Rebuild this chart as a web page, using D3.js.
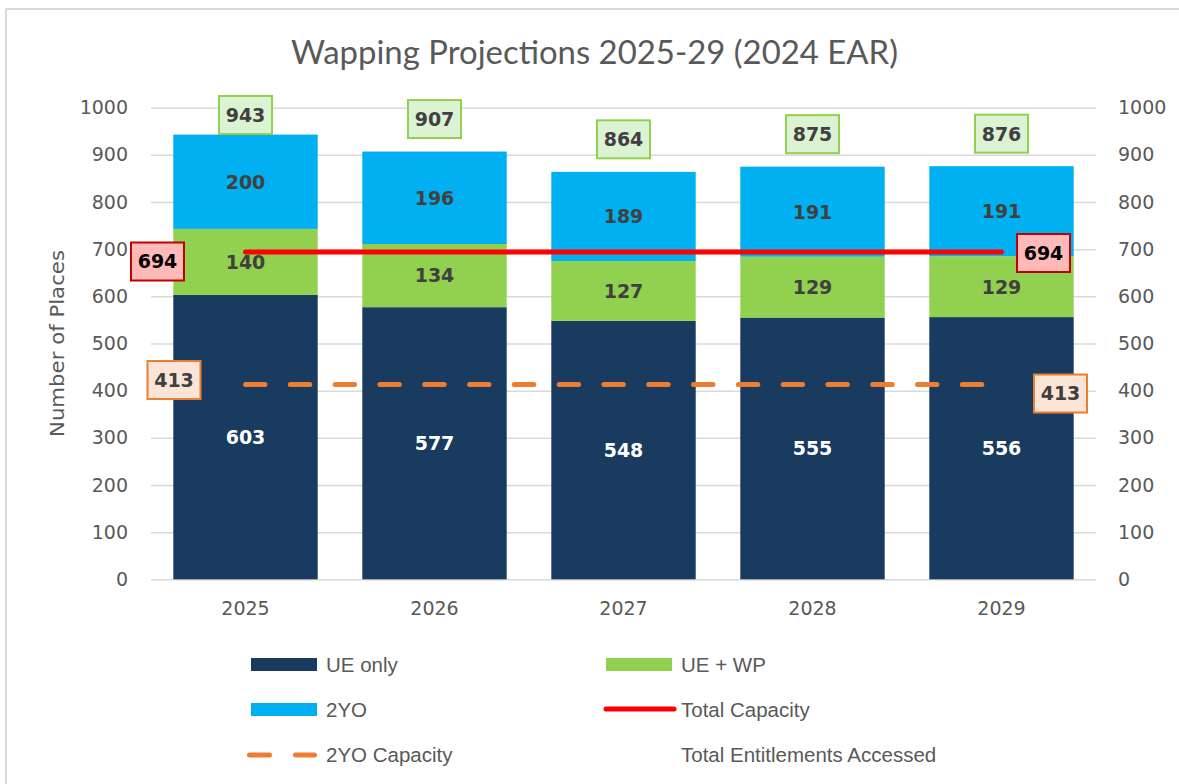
<!DOCTYPE html>
<html>
<head>
<meta charset="utf-8">
<script src="https://cdn.jsdelivr.net/npm/d3@7"></script>
<style>
  html, body { margin: 0; padding: 0; background: #fff; }
  svg { display: block; }
</style>
</head>
<body>
<svg id="chart" width="1179" height="784"></svg>
<script>
// ---- data ----
const years = ["2025", "2026", "2027", "2028", "2029"];
const ueOnly = [603, 577, 548, 555, 556];
const ueWp = [140, 134, 127, 129, 129];
const twoYO = [200, 196, 189, 191, 191];
const totalCapacity = [694, 694, 694, 694, 694];
const twoYOCapacity = [413, 413, 413, 413, 413];
const totalEntitlements = [943, 907, 864, 875, 876];
const yTicks = [0, 100, 200, 300, 400, 500, 600, 700, 800, 900, 1000];
const seriesNames = ["UE only", "UE + WP", "2YO", "Total Capacity", "2YO Capacity", "Total Entitlements Accessed"];
const titleText = "Wapping Projections 2025-29 (2024 EAR)";
const yAxisTitle = "Number of Places";

// ---- style ----
const C = { ue: "#183b5f", wp: "#92d050", yo: "#00b0f0", red: "#ff0000", orange: "#ed7d31",
            grid: "#d9d9d9", text: "#595959", lab: "#404040" };
const FONT = "'DejaVu Sans', sans-serif";

const svg = d3.select("#chart");
// outer frame
svg.append("rect").attr("x", 6).attr("y", 9).attr("width", 1190).attr("height", 800)
  .attr("fill", "#fff").attr("stroke", "#d9d9d9").attr("stroke-width", 2);

const x = d3.scaleBand().domain(years).range([151, 1096]).padding(0);
const y = d3.scaleLinear().domain([0, 1000]).range([579.3, 107.7]);
const barW = x.bandwidth() * 0.764;
const cx = d => x(d) + x.bandwidth() / 2;
const fmt = d3.format("d");

// gridlines + left axis
const gl = svg.append("g").attr("transform", "translate(151,0)")
  .call(d3.axisLeft(y).tickValues(yTicks).tickFormat(fmt).tickSize(-945).tickPadding(23));
gl.select(".domain").remove();
gl.selectAll("line").attr("stroke", C.grid).attr("stroke-width", 1.5);
gl.selectAll("text").attr("fill", C.text).attr("font-size", 19).attr("font-family", FONT);

const gr = svg.append("g").attr("transform", "translate(1096,0)")
  .call(d3.axisRight(y).tickValues(yTicks).tickFormat(fmt).tickSize(0).tickPadding(22));
gr.select(".domain").remove();
gr.selectAll("text").attr("fill", C.text).attr("font-size", 19).attr("font-family", FONT);

const gb = svg.append("g").attr("transform", `translate(0,${y(0)})`)
  .call(d3.axisBottom(x).tickSize(0).tickPadding(22));
gb.select(".domain").remove();
gb.selectAll("text").attr("fill", C.text).attr("font-size", 19).attr("font-family", FONT);

// stacked bars
const rows = years.map((yr, i) => ({ year: yr, ue: ueOnly[i], wp: ueWp[i], yo: twoYO[i] }));
const stack = d3.stack().keys(["ue", "wp", "yo"])(rows);
const fills = { ue: C.ue, wp: C.wp, yo: C.yo };
const labFill = { ue: "#ffffff", wp: C.lab, yo: C.lab };

stack.forEach(layer => {
  const g = svg.append("g");
  g.selectAll("rect").data(layer).join("rect")
    .attr("x", d => cx(d.data.year) - barW / 2)
    .attr("width", barW)
    .attr("y", d => y(d[1]))
    .attr("height", d => y(d[0]) - y(d[1]))
    .attr("fill", fills[layer.key]);
});
stack.forEach(layer => {
  svg.append("g").selectAll("text").data(layer).join("text")
    .attr("x", d => cx(d.data.year))
    .attr("y", d => y((d[0] + d[1]) / 2))
    .attr("dy", "0.36em")
    .attr("text-anchor", "middle")
    .attr("font-family", FONT).attr("font-weight", "bold").attr("font-size", 19)
    .attr("fill", labFill[layer.key])
    .text(d => d.data[layer.key]);
});

// lines
const line = d3.line().x((d, i) => cx(years[i])).y(d => y(d));
svg.append("path").datum(totalCapacity).attr("d", line)
  .attr("fill", "none").attr("stroke", C.red).attr("stroke-width", 5).attr("stroke-linecap", "round");
svg.append("path").datum(twoYOCapacity).attr("d", line)
  .attr("fill", "none").attr("stroke", C.orange).attr("stroke-width", 5)
  .attr("stroke-linecap", "round").attr("stroke-dasharray", "19.5,25.3");

// boxed labels
function boxLabel(px, py, txt, fill, stroke, color) {
  const g = svg.append("g").attr("transform", `translate(${px},${py})`);
  g.append("rect").attr("x", -26.5).attr("y", -19).attr("width", 53).attr("height", 38)
    .attr("fill", fill).attr("stroke", stroke).attr("stroke-width", 2);
  g.append("text").attr("text-anchor", "middle").attr("dy", "0.36em")
    .attr("font-family", FONT).attr("font-weight", "bold").attr("font-size", 19)
    .attr("fill", color).text(txt);
}
const last = years.length - 1;
boxLabel(cx(years[0]) - 88, y(totalCapacity[0]) + 9.5, totalCapacity[0], "#ffb9b9", "#c00000", "#000");
boxLabel(cx(years[last]) + 42, y(totalCapacity[last]) + 1, totalCapacity[last], "#ffb9b9", "#c00000", "#000");
boxLabel(cx(years[0]) - 71.5, y(twoYOCapacity[0]) - 4.5, twoYOCapacity[0], "#fbe5d6", C.orange, C.lab);
boxLabel(cx(years[last]) + 59, y(twoYOCapacity[last]) + 9, twoYOCapacity[last], "#fbe5d6", C.orange, C.lab);
totalEntitlements.forEach((v, i) => {
  boxLabel(cx(years[i]), Math.max(y(v) - 32.5, 115), v, "#dcf3d3", C.wp, C.lab);
});

// title
svg.append("text").attr("x", 594.5).attr("y", 64).attr("text-anchor", "middle")
  .attr("font-family", "Lato, sans-serif").attr("font-size", 32).attr("fill", C.text)
  .attr("textLength", 607).attr("lengthAdjust", "spacingAndGlyphs")
  .text(titleText);

// y axis title
svg.append("text").attr("transform", "translate(64,343.5) rotate(-90)")
  .attr("text-anchor", "middle").attr("font-family", FONT).attr("font-size", 20)
  .attr("textLength", 187).attr("lengthAdjust", "spacingAndGlyphs")
  .attr("fill", C.text).text(yAxisTitle);

// legend
const LF = "'Liberation Sans Narrow', 'Arial Narrow', 'Liberation Sans', sans-serif";
const lg = svg.append("g");
function legText(tx, ty, t) {
  lg.append("text").attr("x", tx).attr("y", ty).attr("dy", "0.35em")
    .attr("font-family", LF).attr("font-size", 20.5).attr("fill", C.text).text(t);
}
lg.append("rect").attr("x", 251).attr("y", 658).attr("width", 66).attr("height", 13).attr("fill", C.ue);
legText(326, 665, seriesNames[0]);
lg.append("rect").attr("x", 606).attr("y", 658).attr("width", 66).attr("height", 13).attr("fill", C.wp);
legText(681, 665, seriesNames[1]);
lg.append("rect").attr("x", 251).attr("y", 703).attr("width", 66).attr("height", 13).attr("fill", C.yo);
legText(326, 710, seriesNames[2]);
lg.append("line").attr("x1", 606).attr("x2", 674).attr("y1", 709).attr("y2", 709)
  .attr("stroke", C.red).attr("stroke-width", 5).attr("stroke-linecap", "round");
legText(681, 710, seriesNames[3]);
lg.append("line").attr("x1", 249.5).attr("x2", 314.5).attr("y1", 755).attr("y2", 755)
  .attr("stroke", C.orange).attr("stroke-width", 5).attr("stroke-linecap", "round")
  .attr("stroke-dasharray", "20,26");
legText(326, 755, seriesNames[4]);
legText(681, 755, seriesNames[5]);
</script>
</body>
</html>
